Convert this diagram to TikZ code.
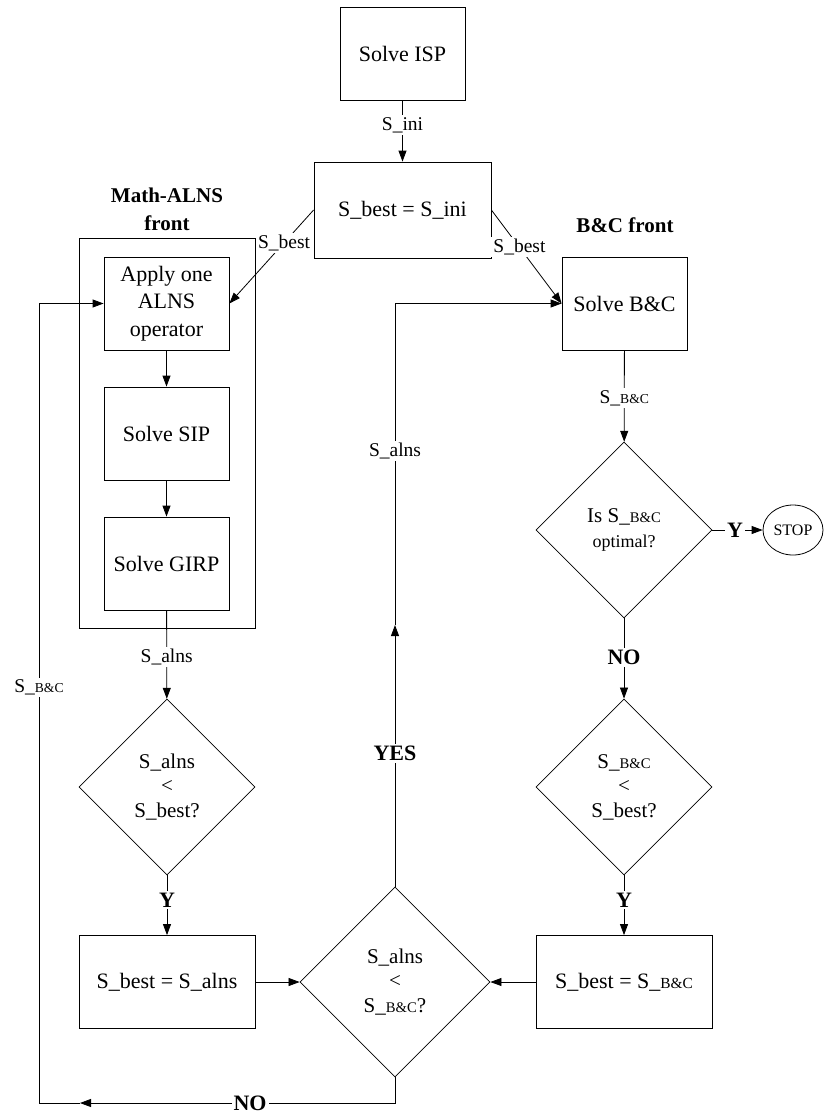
\documentclass[tikz,border=0pt]{standalone}
\usepackage{fontspec}
\setmainfont{Liberation Serif}
\usepackage{graphicx}
\usetikzlibrary{shapes.geometric}
\usetikzlibrary{arrows.meta}

\newcommand{\bc}{\scalebox{0.7}{B\&C}}

\begin{document}
\begin{tikzpicture}[
    x=1pt, y=-1pt,
    line width=0.8pt,
    >={Triangle[length=11pt, width=8pt]},
    box/.style={rectangle, draw, minimum width=125pt, minimum height=93pt, align=center, font=\fontsize{22}{27.5}\selectfont},
    wide box/.style={box, minimum width=176pt},
    decision/.style={diamond, draw, aspect=1, minimum width=176pt, minimum height=176pt, inner sep=0pt, align=center, font=\fontsize{21}{24.5}\selectfont},
    edge label/.style={rectangle, fill=white, inner sep=2pt, font=\fontsize{19.5}{21}\selectfont},
    answer/.style={rectangle, fill=white, inner sep=2pt, font=\bfseries\fontsize{22}{24}\selectfont},
    title/.style={align=center, font=\bfseries\fontsize{21}{28}\selectfont},
  ]
  \useasboundingbox (0,0) rectangle (825,1116);

  % Start
  \node[box] (isp) at (402.5,53.5) {Solve ISP};
  \node[wide box, minimum width=177pt, minimum height=96pt] (ini) at (402.5,210) {S\_best = S\_ini};

  % Math-ALNS front
  \node[title] (alnstitle) at (167,209) {Math-ALNS\\front};
  \node[draw, minimum width=176pt, minimum height=390pt] (alnsfront) at (167,433) {};
  \node[box] (apply) at (166.5,303.5) {Apply one\\ALNS\\operator};
  \node[box] (sip) at (166.5,433.5) {Solve SIP};
  \node[box] (girp) at (166.5,563.5) {Solve GIRP};
  \node[decision] (alnsbetter) at (167,787) {S\_alns\\<\\S\_best?};
  \node[wide box] (alnsbest) at (167,982) {S\_best = S\_alns};

  % B&C front
  \node[title] (bctitle) at (625,225) {B\&C front};
  \node[box] (bc) at (624.5,303.5) {Solve B\&C};
  \node[decision] (opt) at (624,530) {Is S\_\bc\\{\fontsize{18}{20}\selectfont optimal?}};
  \node[ellipse, draw, minimum width=60pt, minimum height=50pt, inner sep=1pt, font=\fontsize{16}{18}\selectfont] (stop) at (793,530) {STOP};
  \node[decision] (bcbetter) at (624,787) {S\_\bc\\<\\S\_best?};
  \node[wide box] (bcbest) at (624,982) {S\_best = S\_\bc};

  % Comparison
  \node[decision, minimum width=190pt, minimum height=190pt] (cmp) at (395,982) {S\_alns\\<\\S\_\bc?};
  \coordinate (up) at (395,625);
  \coordinate (back) at (80,1103);

  % Edges
  \draw[->] (isp) -- node[edge label, pos=0.4] {S\_ini} (ini);
  \draw[->] (ini.west) -- node[edge label, pos=0.35] {S\_best} (apply.east);
  \draw[->] (ini.east) -- node[edge label, pos=0.4] {S\_best} (bc.west);
  \draw[->] (apply) -- (sip);
  \draw[->] (sip) -- (girp);
  \draw[->] (girp) -- node[edge label, pos=0.53] {S\_alns} (alnsbetter);
  \draw[->] (alnsbetter) -- node[answer, pos=0.41] {Y} (alnsbest);
  \draw[->] (alnsbest) -- (cmp);
  \draw[->] (bc) -- node[edge label, pos=0.52] {S\_\bc} (opt);
  \draw[->] (opt) -- node[answer, pos=0.45] {Y} (stop);
  \draw[->] (opt) -- node[answer, pos=0.49] {NO} (bcbetter);
  \draw[->] (bcbetter) -- node[answer, pos=0.41] {Y} (bcbest);
  \draw[->] (bcbest) -- (cmp);
  \draw[->] (cmp) -- node[answer, pos=0.51] {YES} (up);
  \draw[->] (up) |- node[edge label, pos=0.27] {S\_alns} (bc.west);
  \draw[->] (cmp) |- node[answer, pos=0.73] {NO} (back);
  \draw[->] (back) -- ++(-41,0) |- node[edge label, pos=0.26] {S\_\bc} (apply.west);

\end{tikzpicture}
\end{document}
